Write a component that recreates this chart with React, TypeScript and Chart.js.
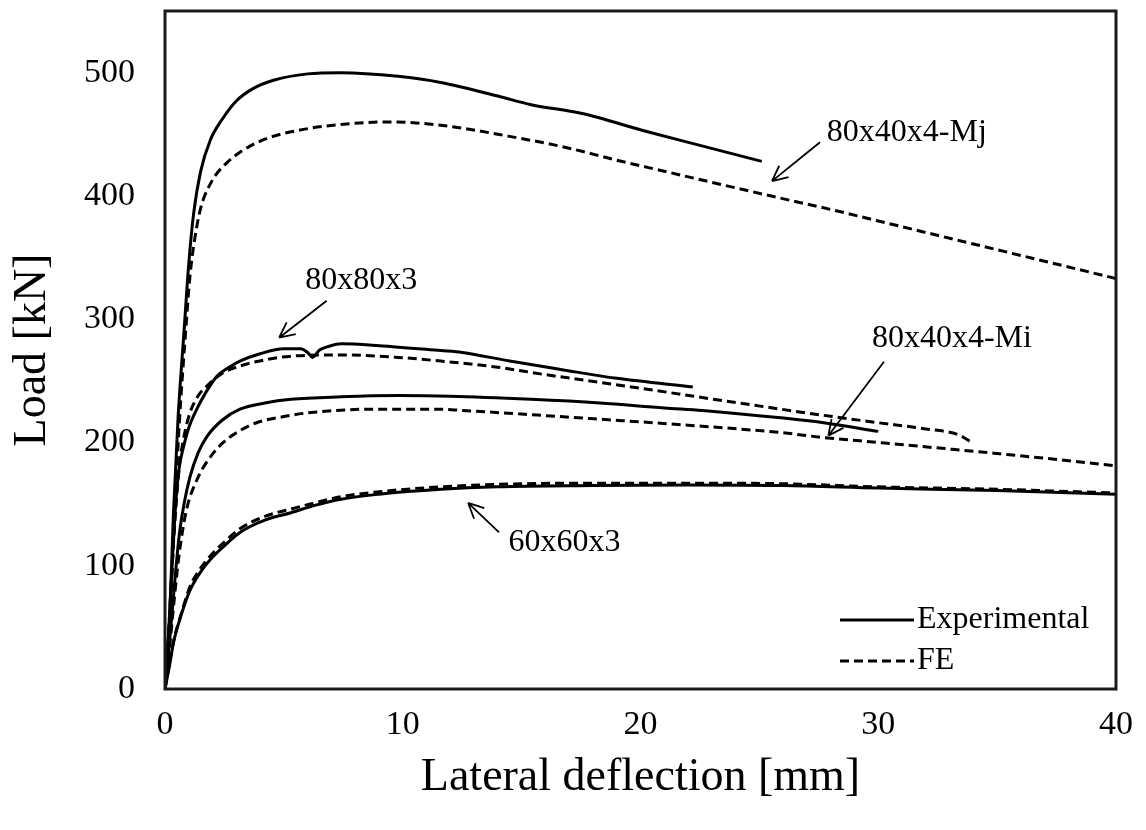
import { useEffect, useRef } from "react";
import { Chart, registerables } from "chart.js";

Chart.register(...registerables);

// Lateral deflection [mm] / load [kN] pairs for each specimen
const mjExpX = [0, 0.2, 0.35, 0.55, 0.8, 1.0, 1.2, 1.5, 1.9, 2.4, 3.0, 3.7, 4.6, 6.0, 7.4, 9.8, 11.6, 14.0, 15.4, 17.5, 20.3, 22.5, 25.1];
const mjExpY = [0, 60, 140, 220, 290, 345, 385, 420, 445, 462, 477, 487, 494, 499, 500, 497, 492, 481, 474, 467, 452, 441, 428];
const mjFeX = [0, 0.2, 0.4, 0.6, 0.85, 1.05, 1.25, 1.5, 2.0, 2.5, 3.2, 4.2, 5.3, 7.4, 9.5, 11.0, 12.5, 14.0, 16.7, 19.0, 21.0, 23.0, 25.7, 28.0, 31.0, 34.0, 37.0, 40.0];
const mjFeY = [0, 55, 140, 215, 285, 335, 365, 390, 413, 425, 436, 446, 452, 458, 460, 458.5, 455, 450, 440, 429, 420, 411, 399, 389, 375, 361, 347, 333];

const sq80ExpX = [0, 0.15, 0.3, 0.45, 0.6, 0.76, 1.0, 1.26, 1.7, 2.2, 2.7, 3.15, 4.0, 5.0, 5.7, 6.0, 6.2, 6.5, 6.9, 7.4, 9.0, 11.6, 12.5, 14.5, 16.7, 19.0, 22.2];
const sq80ExpY = [0, 45, 100, 150, 180, 195, 212, 224, 240, 254, 261, 266, 272, 276, 276, 273, 269, 275, 278, 280, 278.5, 274.5, 273, 266, 259, 252, 245];
const sq80FeX = [0, 0.15, 0.3, 0.45, 0.6, 0.8, 1.05, 1.4, 1.77, 2.4, 3.15, 4.2, 5.3, 7.4, 9.8, 11.6, 14.0, 16.0, 18.2, 20.0, 22.4, 25.9, 27.7, 30.0, 32.0, 33.4, 34.0];
const sq80FeY = [0, 45, 100, 145, 180, 205, 224, 238, 246, 256, 262, 267, 270, 271, 269, 266, 261, 255, 249, 244, 237, 227, 222, 216, 211, 206, 199];

const miExpX = [0, 0.2, 0.4, 0.6, 0.8, 1.05, 1.4, 1.77, 2.4, 3.15, 4.2, 5.3, 7.4, 9.8, 12.0, 15.4, 18.3, 21.0, 22.6, 25.9, 27.7, 30.0];
const miExpY = [0, 40, 85, 125, 150, 172, 192, 205, 218, 227, 232, 235, 237, 238, 237.5, 235, 232, 228, 226, 220, 216, 209];
const miFeX = [0, 0.2, 0.4, 0.6, 0.9, 1.35, 1.9, 2.45, 3.1, 3.85, 5.0, 6.0, 8.75, 11.6, 12.5, 15.0, 18.2, 22.0, 25.9, 27.7, 30.0, 32.8, 35.0, 37.1, 40.0];
const miFeY = [0, 35, 75, 110, 145, 170, 188, 200, 209, 216, 221, 224, 227, 227, 226, 223, 219, 214, 208, 204, 200, 195, 191, 187, 181];

const sq60ExpX = [0, 0.2, 0.35, 0.6, 1.05, 1.5, 2.0, 2.6, 3.15, 4.2, 5.3, 6.3, 7.4, 9.0, 11.6, 14.0, 18.0, 22.0, 26.0, 30.0, 35.0, 40.0];
const sq60ExpY = [0, 20, 37, 55, 80, 95, 107, 118, 127, 137, 143, 149, 154, 158, 162, 164, 165, 165.5, 165, 163, 161, 158];
const sq60FeX = [0, 0.2, 0.4, 0.7, 1.05, 1.5, 2.0, 2.6, 3.15, 4.2, 5.3, 6.3, 7.4, 9.0, 11.6, 14.0, 18.0, 22.0, 26.0, 30.0, 35.0, 40.0];
const sq60FeY = [0, 22, 42, 62, 83, 98, 110, 121, 130, 140, 146, 151, 156, 160, 164, 166, 167, 167, 166.5, 164, 162, 159];

const legendItems = ["Experimental", "FE"];
const axisTitles = { x: "Lateral deflection [mm]", y: "Load [kN]" };

const SERIF = "'Liberation Serif', 'Times New Roman', serif";
const DASH = [9, 5];

// Specimen labels with arrows, placed in data units
const notes = [
  { text: "80x40x4-Mj", tx: 31.2, ty: 451, ax: 27.55, ay: 443.5, hx: 25.53, hy: 412 },
  { text: "80x80x3", tx: 8.25, ty: 331, ax: 6.8, ay: 315, hx: 4.8, hy: 285 },
  { text: "80x40x4-Mi", tx: 33.1, ty: 284, ax: 30.24, ay: 265.5, hx: 27.9, hy: 205.5 },
  { text: "60x60x3", tx: 16.8, ty: 119, ax: 14.05, ay: 127, hx: 12.75, hy: 151 },
];

const pts = (xs: number[], ys: number[]) => xs.map((x, i) => ({ x, y: ys[i] }));

const series = (label: string, xs: number[], ys: number[], dashed: boolean) => ({
  label,
  data: pts(xs, ys),
  showLine: true,
  borderColor: "#000",
  backgroundColor: "#000",
  borderWidth: 3,
  borderDash: dashed ? DASH : [],
  pointRadius: 0,
  cubicInterpolationMode: "monotone" as const,
});

const framePlugin = {
  id: "frame",
  afterDatasetsDraw(chart: any) {
    const { ctx, chartArea: a } = chart;
    ctx.save();
    ctx.strokeStyle = "#1a1a1a";
    ctx.lineWidth = 3;
    ctx.strokeRect(a.left, a.top, a.right - a.left, a.bottom - a.top);
    ctx.restore();
  },
};

const notesPlugin = {
  id: "notes",
  afterDraw(chart: any) {
    const { ctx, scales } = chart;
    const X = scales.x, Y = scales.y;
    ctx.save();
    ctx.fillStyle = "#000";
    ctx.strokeStyle = "#000";
    ctx.font = `32px ${SERIF}`;
    ctx.textAlign = "center";
    ctx.textBaseline = "middle";
    for (const n of notes) {
      ctx.fillText(n.text, X.getPixelForValue(n.tx), Y.getPixelForValue(n.ty));
      const x1 = X.getPixelForValue(n.ax), y1 = Y.getPixelForValue(n.ay);
      const x2 = X.getPixelForValue(n.hx), y2 = Y.getPixelForValue(n.hy);
      ctx.lineWidth = 1.8;
      ctx.beginPath();
      ctx.moveTo(x1, y1);
      ctx.lineTo(x2, y2);
      const ang = Math.atan2(y2 - y1, x2 - x1);
      const len = 17;
      for (const s of [-1, 1]) {
        ctx.moveTo(x2, y2);
        ctx.lineTo(x2 - len * Math.cos(ang + s * 0.45), y2 - len * Math.sin(ang + s * 0.45));
      }
      ctx.stroke();
    }
    ctx.restore();
  },
};

const legendPlugin = {
  id: "lineLegend",
  afterDraw(chart: any) {
    const { ctx, chartArea: a } = chart;
    ctx.save();
    ctx.font = `32px ${SERIF}`;
    ctx.fillStyle = "#000";
    ctx.strokeStyle = "#000";
    ctx.lineWidth = 3;
    ctx.textAlign = "left";
    ctx.textBaseline = "middle";
    const rows = [a.bottom - 69, a.bottom - 28];
    legendItems.forEach((label, i) => {
      const y = rows[i];
      ctx.setLineDash(i === 0 ? [] : DASH);
      ctx.beginPath();
      ctx.moveTo(a.right - 276, y);
      ctx.lineTo(a.right - 202, y);
      ctx.stroke();
      ctx.setLineDash([]);
      ctx.fillText(label, a.right - 199, y);
    });
    ctx.restore();
  },
};

export default function App() {
  const ref = useRef<HTMLCanvasElement | null>(null);

  useEffect(() => {
    if (!ref.current) return;
    const chart = new Chart(ref.current, {
      type: "scatter",
      data: {
        datasets: [
          series("80x40x4-Mj Experimental", mjExpX, mjExpY, false),
          series("80x40x4-Mj FE", mjFeX, mjFeY, true),
          series("80x80x3 Experimental", sq80ExpX, sq80ExpY, false),
          series("80x80x3 FE", sq80FeX, sq80FeY, true),
          series("80x40x4-Mi Experimental", miExpX, miExpY, false),
          series("80x40x4-Mi FE", miFeX, miFeY, true),
          series("60x60x3 Experimental", sq60ExpX, sq60ExpY, false),
          series("60x60x3 FE", sq60FeX, sq60FeY, true),
        ],
      },
      options: {
        animation: false,
        responsive: true,
        maintainAspectRatio: false,
        layout: { padding: { left: 0, right: 30, top: 11, bottom: 0 } },
        plugins: { legend: { display: false }, tooltip: { enabled: false } },
        scales: {
          x: {
            type: "linear",
            min: 0,
            max: 40,
            grid: { display: false, drawTicks: false },
            border: { display: false },
            ticks: { stepSize: 10, padding: 16, color: "#000", font: { family: SERIF, size: 34 } },
            title: { display: true, text: axisTitles.x, color: "#000", padding: 24, font: { family: SERIF, size: 46 } },
            afterFit: (s: any) => {
              s.height = 141;
              s.paddingLeft = 0;
              s.paddingRight = 0;
            },
          },
          y: {
            type: "linear",
            min: 0,
            max: 550,
            grid: { display: false, drawTicks: false },
            border: { display: false },
            ticks: { stepSize: 100, includeBounds: false, padding: 30, color: "#000", font: { family: SERIF, size: 34 } },
            title: { display: true, text: axisTitles.y, color: "#000", padding: 5, font: { family: SERIF, size: 46 } },
            afterFit: (s: any) => {
              s.width = 165;
              s.paddingTop = 0;
              s.paddingBottom = 0;
            },
          },
        },
      },
      plugins: [framePlugin, notesPlugin, legendPlugin],
    } as any);
    return () => chart.destroy();
  }, []);

  return (
    <div style={{ position: "fixed", left: 0, top: 0, width: 1146, height: 830, background: "#fff" }}>
      <canvas ref={ref} />
    </div>
  );
}
